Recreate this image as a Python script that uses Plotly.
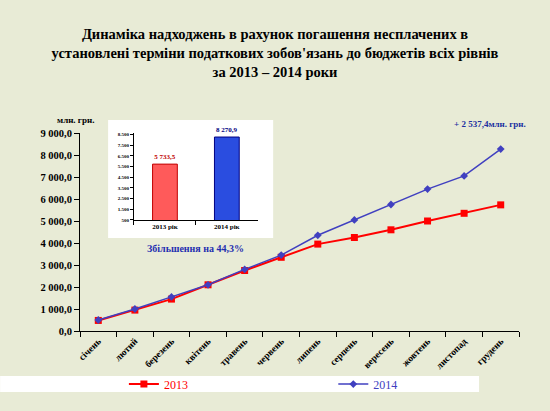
import plotly.graph_objects as go

months = ['січень', 'лютий', 'березень', 'квітень', 'травень', 'червень',
          'липень', 'серпень', 'вересень', 'жовтень', 'листопад', 'грудень']
v2013 = [480, 950, 1450, 2100, 2750, 3350, 3950, 4250, 4600, 5000, 5350, 5733.5]
v2014 = [500, 1000, 1550, 2100, 2800, 3450, 4350, 5050, 5750, 6450, 7050, 8270.9]

y_tickvals = [0, 1000, 2000, 3000, 4000, 5000, 6000, 7000, 8000, 9000]
y_ticktext = ['0,0', '1 000,0', '2 000,0', '3 000,0', '4 000,0', '5 000,0',
              '6 000,0', '7 000,0', '8 000,0', '9 000,0']

inset_cats = ['2013 рік', '2014 рік']
inset_vals = [5733.5, 8270.9]
inset_labels = ['5 733,5', '8 270,9']
inset_tickvals = [500, 1500, 2500, 3500, 4500, 5500, 6500, 7500, 8500]
inset_ticktext = ['500', '1.500', '2.500', '3.500', '4.500', '5.500', '6.500', '7.500', '8.500']

SERIF = 'Liberation Serif'

fig = go.Figure()

fig.add_trace(go.Scatter(
    x=months, y=v2013, mode='lines+markers', name='2013', legend='legend',
    line=dict(color='#ff0000', width=2),
    marker=dict(symbol='square', size=7, color='#ff0000'),
))
fig.add_trace(go.Scatter(
    x=months, y=v2014, mode='lines+markers', name='2014', legend='legend2',
    line=dict(color='#4040c0', width=1.5),
    marker=dict(symbol='diamond', size=6, color='#4040c0'),
))

fig.add_trace(go.Bar(
    x=inset_cats, y=inset_vals, xaxis='x2', yaxis='y2',
    marker=dict(color=['#ff5a5a', '#2a4de0'], line=dict(color=['#c00000', '#000080'], width=1)),
    width=0.4, text=['<b>' + t + '</b>' for t in inset_labels], textposition='outside',
    textfont=dict(family=SERIF, size=7, color=['#c00000', '#000080']),
    cliponaxis=False, showlegend=False,
))

fig.update_layout(
    width=550, height=411,
    margin=dict(l=80, r=31, t=133, b=80, autoexpand=False),
    paper_bgcolor='#e8ebd6', plot_bgcolor='rgba(0,0,0,0)',
    font=dict(family=SERIF, color='black'),
    title=dict(
        text='<b>Динаміка надходжень в рахунок погашення несплачених в<br>'
             'установлені терміни податкових зобов\'язань до бюджетів всіх рівнів<br>'
             'за 2013 – 2014 роки</b>',
        x=0.5, xanchor='center', y=0.905, yanchor='top',
        font=dict(family=SERIF, size=14.5, color='black'),
    ),
    xaxis=dict(
        type='category', range=[-0.5, 11.5], showline=True, linecolor='black', linewidth=1,
        ticks='outside', ticklen=5, tickcolor='black', tickson='boundaries',
        tickangle=-45, tickfont=dict(family=SERIF, size=9.5, color='black'),
        tickvals=months, ticktext=['<b>' + m + '</b>' for m in months],
        showgrid=False, zeroline=False, automargin=False,
    ),
    yaxis=dict(
        range=[0, 9000], tickvals=y_tickvals, ticktext=['<b>' + t + '</b>' for t in y_ticktext],
        showline=True, linecolor='black', linewidth=1, ticks='outside', ticklen=5,
        tickcolor='black', tickfont=dict(family=SERIF, size=10.5, color='black'),
        showgrid=False, zeroline=False, automargin=False,
    ),
    xaxis2=dict(
        domain=[0.123, 0.405], anchor='y2', type='category', range=[-0.5, 1.5],
        showline=True, linecolor='black', linewidth=1, ticks='outside', ticklen=4,
        tickcolor='black', tickson='boundaries',
        tickvals=inset_cats, ticktext=['<b>' + c + '</b>' for c in inset_cats],
        tickfont=dict(family=SERIF, size=7, color='black'), showgrid=False, automargin=False,
    ),
    yaxis2=dict(
        domain=[0.561, 1.0], anchor='x2', range=[500, 8650],
        tickvals=inset_tickvals, ticktext=['<b>' + t + '</b>' for t in inset_ticktext],
        showline=True, linecolor='black', linewidth=1, ticks='outside', ticklen=3,
        tickcolor='black', tickfont=dict(family=SERIF, size=5, color='black'),
        showgrid=False, zeroline=False, automargin=False,
    ),
    legend=dict(
        x=0.10, xanchor='left', y=-0.268, yanchor='middle', itemwidth=30,
        bgcolor='rgba(0,0,0,0)', font=dict(family=SERIF, size=12, color='#ff0000'),
    ),
    legend2=dict(
        x=0.577, xanchor='left', y=-0.268, yanchor='middle', itemwidth=30,
        bgcolor='rgba(0,0,0,0)', font=dict(family=SERIF, size=12, color='#4040c0'),
    ),
    shapes=[
        dict(type='rect', xref='paper', yref='paper', x0=0.064, x1=0.44, y0=0.47, y1=1.066,
             fillcolor='white', line=dict(width=0), layer='below'),
        dict(type='rect', xref='paper', yref='paper', x0=-0.182, x1=0.909, y0=-0.227, y1=-0.308,
             fillcolor='white', line=dict(width=0), layer='below'),
    ],
    annotations=[
        dict(text='<b>млн. грн.</b>', xref='paper', yref='paper', x=-0.011, y=1.066,
             xanchor='center', yanchor='middle', showarrow=False,
             font=dict(family=SERIF, size=9, color='black')),
        dict(text='<b>Збільшення на 44,3%</b>', xref='paper', yref='paper', x=0.262, y=0.419,
             xanchor='center', yanchor='middle', showarrow=False,
             font=dict(family=SERIF, size=10, color='#1f2fb0')),
        dict(text='<b>+ 2 537,4млн. грн.</b>', xref='paper', yref='paper', x=0.935, y=1.045,
             xanchor='center', yanchor='middle', showarrow=False,
             font=dict(family=SERIF, size=9, color='#2030a0')),
    ],
)

fig.write_html('out.html', config={'displayModeBar': False},
               post_script="document.body.style.margin='0';")
